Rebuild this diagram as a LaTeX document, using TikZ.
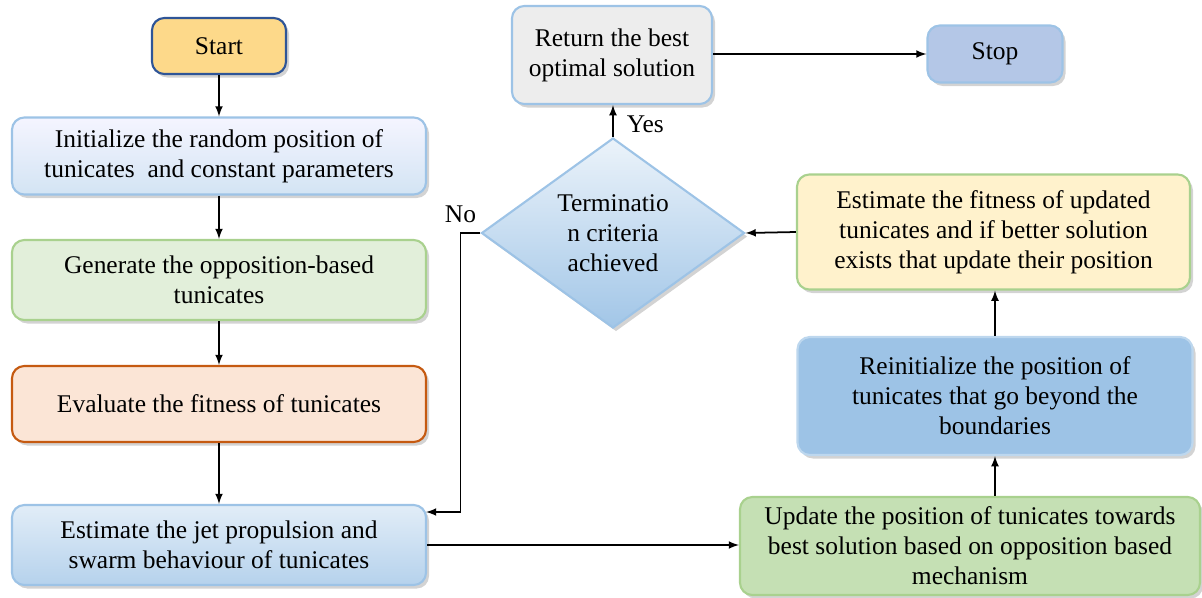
\documentclass[tikz,border=0pt]{standalone}
\usepackage{fontspec}
\setmainfont{Liberation Serif}
\usetikzlibrary{shapes.geometric, shadows, arrows}

\definecolor{startfill}{HTML}{FDD98A}
\definecolor{startline}{HTML}{2F5597}
\definecolor{skyline}{HTML}{9DC3E6}
\definecolor{leafline}{HTML}{A9D18E}
\definecolor{leaffill}{HTML}{E2EFDA}
\definecolor{rustline}{HTML}{C55A11}
\definecolor{rustfill}{HTML}{FBE5D6}
\definecolor{greyfill}{HTML}{EDEDED}
\definecolor{stopfill}{HTML}{B4C7E7}
\definecolor{creamfill}{HTML}{FFF2CC}
\definecolor{reinitfill}{HTML}{9DC3E6}
\definecolor{reinitline}{HTML}{BDD7EE}
\definecolor{updatefill}{HTML}{C5E0B4}

\begin{document}
\begin{tikzpicture}[
        font=\fontsize{14.5}{17}\selectfont,
        box/.style={rectangle, rounded corners=7pt, draw, line width=1.2pt, align=center, inner sep=2pt,
            drop shadow={shadow xshift=0.06cm, shadow yshift=-0.07cm, opacity=0.35, fill=gray}},
        arr/.style={-latex, line width=1pt}
    ]
        \useasboundingbox (0,0) rectangle (24.04,-11.94);

        \node[box, draw=startline, fill=startfill, minimum width=2.68cm, minimum height=1.12cm] (S) at (4.38,-0.92) {Start};
        \node[box, draw=skyline, top color=blue!4, bottom color=skyline!45, minimum width=8.28cm, minimum height=1.54cm] (I) at (4.38,-3.12) {Initialize the random position of\\tunicates~ and constant parameters};
        \node[box, draw=leafline, fill=leaffill, minimum width=8.28cm, minimum height=1.6cm] (G) at (4.38,-5.6) {Generate the opposition-based\\tunicates};
        \node[box, draw=rustline, fill=rustfill, minimum width=8.28cm, minimum height=1.52cm] (E) at (4.38,-8.08) {Evaluate the fitness of tunicates};
        \node[box, draw=skyline, top color=skyline!30, bottom color=skyline!75, minimum width=8.28cm, minimum height=1.6cm] (J) at (4.38,-10.9) {Estimate the jet propulsion and\\swarm behaviour of tunicates};

        \node[box, draw=skyline, fill=greyfill, minimum width=4cm, minimum height=1.96cm] (R) at (12.24,-1.1) {Return the best\\optimal solution};
        \node[box, draw=skyline, fill=stopfill, minimum width=2.7cm, minimum height=1.14cm] (P) at (19.9,-1.08) {Stop};
        \node[diamond, draw=skyline, line width=1.2pt, top color=skyline!20, bottom color=skyline!95, aspect=1.4,
            inner sep=0pt, minimum width=5.26cm, minimum height=3.8cm, align=center,
            drop shadow={shadow xshift=0.06cm, shadow yshift=-0.07cm, opacity=0.35, fill=gray}] (T) at (12.26,-4.66) {Terminatio\\n criteria\\achieved};

        \node[box, draw=leafline, fill=creamfill, minimum width=7.86cm, minimum height=2.3cm] (F) at (19.87,-4.64) {Estimate the fitness of updated\\tunicates and if better solution\\exists that update their position};
        \node[box, draw=reinitline, fill=reinitfill, minimum width=7.9cm, minimum height=2.36cm] (N) at (19.9,-7.92) {Reinitialize the position of\\tunicates that go beyond the\\boundaries};
        \node[box, draw=leafline, fill=updatefill, minimum width=9.2cm, minimum height=1.96cm] (U) at (19.4,-10.92) {Update the position of tunicates towards\\best solution based on opposition based\\mechanism};

        \coordinate (noin) at (8.52,-10.24);

        \path [arr] (S) edge (I);
        \path [arr] (I) edge (G);
        \path [arr] (G) edge (E);
        \path [arr] (E) edge (J);
        \draw [arr] (J.east) -- (J.east -| U.west);
        \draw [arr] (N.south |- U.north) -- (N.south);
        \draw [arr] (N.north) -- (N.north |- F.south);
        \draw [arr] (F.west) -- (T.east);
        \draw [arr] (T.north) -- (T.north |- R.south) node[pos=0.4, right=4pt] {Yes};
        \draw [arr] (R.east |- P.west) -- (P.west);
        \draw [arr] (T.west) -- ++(-0.4,0) node[above=2pt] {No} |- (noin);
    \end{tikzpicture}
\end{document}
